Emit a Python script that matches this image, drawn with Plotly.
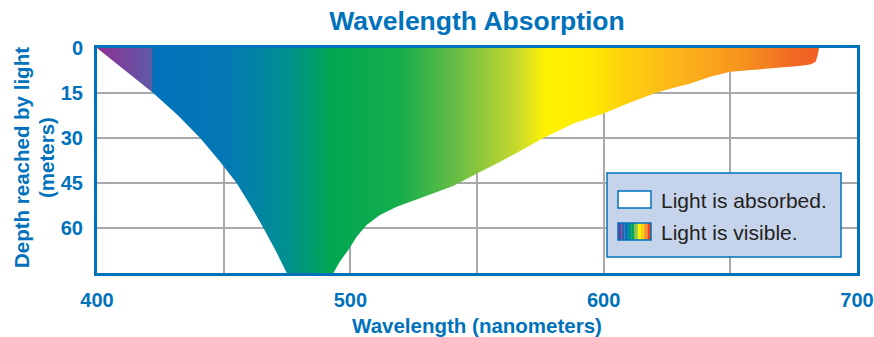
import plotly.graph_objects as go

# ---- data ----
# right (absorption) boundary, from surface down: wavelength (nm), depth (m)
right_nm = [685.0, 684.6, 683.7, 682.0, 680.4, 676.0, 667.3, 658.0, 650.0, 642.0, 634.3, 627.0,
            620.4, 610.0, 600.0, 588.3, 576.2, 566.0, 559.0, 550.0, 540.6, 527.5, 518.3, 511.7,
            506.4, 502.5, 499.2, 495.9, 493.3]
right_depth = [0.0, 2.0, 4.6, 5.3, 5.7, 6.1, 6.7, 7.2, 7.9, 9.6, 11.8, 13.4,
               15.0, 18.3, 21.8, 25.1, 30.0, 34.8, 38.0, 41.8, 46.0, 50.1, 52.9, 55.7,
               59.0, 62.9, 67.3, 71.2, 75.0]
# left boundary, from bottom up
left_nm = [474.9, 470.5, 465.7, 460.6, 455.1, 448.2, 440.7, 432.0, 422.2, 411.0, 400.0]
left_depth = [75.0, 67.5, 60.0, 52.5, 45.0, 37.5, 30.0, 22.5, 15.0, 7.5, 0.0]

# spectrum colour stops (wavelength nm, colour)
spectrum_nm = [400, 421.7, 422, 452, 476, 492, 520, 543, 567, 577, 595, 607, 630, 654, 674, 700]
spectrum_col = ["#8E3092", "#5E5AA8", "#0072BC", "#0479B4", "#00918F", "#00A651", "#16AE4C",
                "#6DBE45", "#CCDB2A", "#FFF200", "#FFEB00", "#FDD20D", "#FBB41A", "#F7941D",
                "#F26A24", "#EF4F23"]

x_ticks = [400, 500, 600, 700]
y_ticks = [0, 15, 30, 45, 60]

y_title_lines = ["Depth reached by light", "(meters)"]
legend_labels = ["Light is absorbed.", "Light is visible."]
legend_swatch = ["#6B3E98", "#3A5DAA", "#0072BC", "#00918F", "#00A651", "#8DC63F",
                 "#FFF200", "#FDD20D", "#F7941D", "#EF4123"]

BLUE = "#0072BC"
GRID = "#A7A9AC"
FONT = "Liberation Sans, Arial, sans-serif"

x0n, x1n = spectrum_nm[0], spectrum_nm[-1]
colorscale = [[(n - x0n) / (x1n - x0n), c] for n, c in zip(spectrum_nm, spectrum_col)]

xs = [400.0] + right_nm + left_nm
ys = [0.0] + right_depth + left_depth

fig = go.Figure()
fig.add_trace(go.Scatter(
    x=xs, y=ys, mode="lines", fill="toself",
    line=dict(width=0, color="rgba(0,0,0,0)"),
    fillgradient=dict(type="horizontal", start=x0n, stop=x1n, colorscale=colorscale),
    hoverinfo="skip", showlegend=False,
))

tickfont = dict(family=FONT, size=20, color=BLUE, weight="bold")
fig.update_xaxes(
    range=[400, 700], tickvals=x_ticks, ticktext=[str(v) for v in x_ticks],
    showgrid=True, gridcolor=GRID, gridwidth=2,
    minor=dict(dtick=50, tick0=400, showgrid=True, gridcolor=GRID, gridwidth=2),
    showline=True, linecolor=BLUE, linewidth=3, mirror=True,
    zeroline=False, ticks="", tickfont=tickfont, ticklabelstandoff=7, automargin=False,
    title=dict(text="Wavelength (nanometers)", standoff=12,
               font=dict(family=FONT, size=20.5, color=BLUE, weight="bold")),
)
fig.update_yaxes(
    range=[75, 0], tickvals=y_ticks, ticktext=[str(v) for v in y_ticks],
    showgrid=True, gridcolor=GRID, gridwidth=2,
    showline=True, linecolor=BLUE, linewidth=3, mirror=True,
    zeroline=False, ticks="", tickfont=tickfont, ticklabelstandoff=7, automargin=False,
)

# pixel helpers relative to the plot area (l=97, r=857, t=48, b=273)
def px_x(p):
    return (p - 97) / 760

def px_y(p):
    return (273 - p) / 225

shapes = [
    dict(type="rect", xref="paper", yref="paper", x0=px_x(607), x1=px_x(841), y0=px_y(257), y1=px_y(173),
         fillcolor="#C6D4EB", line=dict(color=BLUE, width=1.5), layer="above"),
    dict(type="rect", xref="paper", yref="paper", x0=px_x(618), x1=px_x(651), y0=px_y(208), y1=px_y(191),
         fillcolor="white", line=dict(color=BLUE, width=1.5), layer="above"),
]
n = len(legend_swatch)
sx0, sx1 = 618, 651
for i, c in enumerate(legend_swatch):
    shapes.append(dict(type="rect", xref="paper", yref="paper",
                       x0=px_x(sx0 + (sx1 - sx0) * i / n), x1=px_x(sx0 + (sx1 - sx0) * (i + 1) / n),
                       y0=px_y(240), y1=px_y(223), fillcolor=c, line=dict(width=0), layer="above"))
shapes.append(dict(type="rect", xref="paper", yref="paper", x0=px_x(618), x1=px_x(651), y0=px_y(240), y1=px_y(223),
                   fillcolor="rgba(0,0,0,0)", line=dict(color=BLUE, width=1.5), layer="above"))

annotations = []
for lab, py in zip(legend_labels, [200, 232]):
    annotations.append(dict(text=lab, xref="paper", yref="paper", x=px_x(659), y=px_y(py),
                            xanchor="left", yanchor="middle", showarrow=False,
                            font=dict(family="Liberation Sans Narrow, Arial Narrow, sans-serif", size=21, color="#231F20")))
for lab, pxc in zip(y_title_lines, [21, 46]):
    annotations.append(dict(text=lab, xref="paper", yref="paper", x=px_x(pxc), y=px_y(158),
                            xanchor="center", yanchor="middle", textangle=-90, showarrow=False,
                            font=dict(family=FONT, size=20.5, color=BLUE, weight="bold")))

fig.update_layout(
    width=874, height=337,
    margin=dict(l=97, r=17, t=48, b=64, autoexpand=False),
    paper_bgcolor="white", plot_bgcolor="white",
    title=dict(text="Wavelength Absorption", x=px_x(477), xref="paper", xanchor="center",
               yref="container", y=1 - 21 / 337, yanchor="middle",
               font=dict(family=FONT, size=26.5, color=BLUE, weight="bold")),
    shapes=shapes, annotations=annotations, showlegend=False,
)

fig.write_html("out.html", config={"displayModeBar": False},
               post_script="document.body.style.margin='0';")
